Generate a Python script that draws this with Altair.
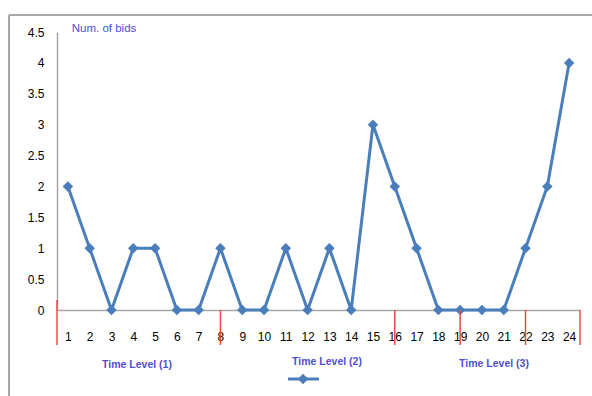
import altair as alt
import pandas as pd

# Number of bids per time slot
slots = list(range(1, 25))
bids = [2, 1, 0, 1, 1, 0, 0, 1, 0, 0, 1, 0, 1, 0, 3, 2, 1, 0, 0, 0, 0, 1, 2, 4]

# Slot positions of the red separators between time levels
separators = [8, 16, 19, 22, 24.5]
axis_start = [0.5]

y_ticks = [0, 0.5, 1, 1.5, 2, 2.5, 3, 3.5, 4, 4.5]
level_labels = ["Time Level (1)", "Time Level (2)", "Time Level (3)"]
y_title = "Num. of bids"

LINE = "#4a7ebb"
LABEL = "#4f4fd2"
FONT = "Liberation Sans"

W, H = 523, 278
PAD_L, PAD_T = 57, 32

df = pd.DataFrame({"slot": slots, "bids": bids})

x_scale = alt.Scale(domain=[0.5, 24.5], nice=False, zero=False)
y_scale = alt.Scale(domain=[0, 4.5], nice=False)

x_axis = alt.Axis(values=slots, format="d", title=None, grid=False,
                  ticks=False, labelPadding=21, labelFontSize=12,
                  labelColor="#000000", labelFont=FONT,
                  labelOverlap=False, labelBound=False,
                  domainColor="#a6a6a6", domainWidth=1.5,
                  labelFlush=False)

series = alt.Chart(df).mark_line(
    color=LINE, strokeWidth=3,
    point=alt.OverlayMarkDef(shape="diamond", filled=True, color=LINE, size=110),
).encode(
    x=alt.X("slot:Q", scale=x_scale, axis=x_axis),
    y=alt.Y("bids:Q", scale=y_scale,
            axis=alt.Axis(values=y_ticks, format="~g", title=None, grid=False,
                          ticks=False, labelPadding=13, labelFontSize=12,
                          labelColor="#000000", labelFont=FONT,
                          labelOverlap=False,
                          domainColor="#a6a6a6", domainWidth=1.5)),
)

sep_df = pd.DataFrame({"slot": separators})
seps = alt.Chart(sep_df).mark_rule(color="#f04848", strokeWidth=1.5).encode(
    x=alt.X("slot:Q", scale=x_scale, axis=x_axis),
    y=alt.value(H), y2=alt.value(H + 35),
)
start_df = pd.DataFrame({"slot": axis_start})
start_sep = alt.Chart(start_df).mark_rule(color="#f04848", strokeWidth=1.5).encode(
    x=alt.X("slot:Q", scale=x_scale, axis=x_axis),
    y=alt.value(H - 10), y2=alt.value(H + 35),
)

# Outer frame (top and left edges)
frame_top = alt.Chart(df).mark_rule(color="#a8a8a8", strokeWidth=2).encode(
    x=alt.value(9 - PAD_L), x2=alt.value(592 - PAD_L), y=alt.value(15 - PAD_T)
)
frame_left = alt.Chart(df).mark_rule(color="#a8a8a8", strokeWidth=2).encode(
    x=alt.value(9 - PAD_L), y=alt.value(15 - PAD_T), y2=alt.value(396 - PAD_T)
)

def label(text, px, py, size=11, weight="bold"):
    return alt.Chart(pd.DataFrame({"t": [text]})).mark_text(
        font=FONT, fontSize=size, fontWeight=weight, color=LABEL,
        align="center", baseline="middle"
    ).encode(text="t:N", x=alt.value(px - PAD_L), y=alt.value(py - PAD_T))

title_txt = label(y_title, 104, 29, 11.5, "normal")
lvl1 = label(level_labels[0], 137, 365, 10.5)
lvl2 = label(level_labels[1], 327, 362, 10.5)
lvl3 = label(level_labels[2], 494, 364, 10.5)

# Legend swatch: short line with a diamond marker
legend_line = alt.Chart(pd.DataFrame({"k": [0]})).mark_rule(color=LINE, strokeWidth=3).encode(
    x=alt.value(288 - PAD_L), x2=alt.value(319 - PAD_L), y=alt.value(379 - PAD_T)
)
legend_pt = alt.Chart(pd.DataFrame({"k": [0]})).mark_square(
    angle=45, color=LINE, size=55, opacity=1
).encode(x=alt.value(303 - PAD_L), y=alt.value(379 - PAD_T))

chart = alt.layer(
    frame_top, frame_left, series, seps, start_sep,
    title_txt, lvl1, lvl2, lvl3, legend_line, legend_pt,
).properties(
    width=W, height=H,
    padding={"left": PAD_L, "top": PAD_T, "right": 592 - PAD_L - W, "bottom": 396 - PAD_T - H},
    autosize=alt.AutoSizeParams(type="none"),
    background="#ffffff",
).configure_view(stroke=None).configure_axis(labelOverlap=False)

chart.save("out.html", embed_options={"renderer": "svg", "actions": False})
